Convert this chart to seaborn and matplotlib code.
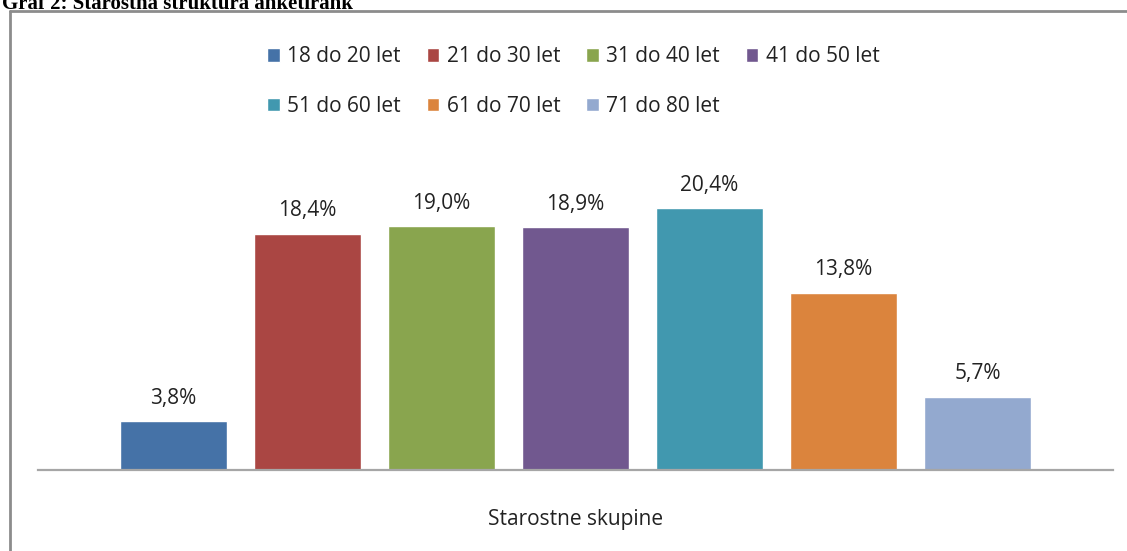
import matplotlib
matplotlib.use("Agg")
import matplotlib.pyplot as plt
from matplotlib.lines import Line2D
import seaborn as sns
import pandas as pd

# Data
groups = ["18 do 20 let", "21 do 30 let", "31 do 40 let", "41 do 50 let",
          "51 do 60 let", "61 do 70 let", "71 do 80 let"]
shares = [3.8, 18.4, 19.0, 18.9, 20.4, 13.8, 5.7]
colors = ["#4572A7", "#AA4643", "#89A54E", "#71588F", "#4198AF", "#DB843D", "#93A9CF"]

df = pd.DataFrame({"skupina": groups, "delez": shares})

sns.set_theme(style="white")
plt.rcParams["font.family"] = ["Open Sans", "DejaVu Sans"]

W, H = 1127, 551
fig = plt.figure(figsize=(W / 100, H / 100), dpi=100)
ax = fig.add_axes([38 / W, 1 - 470 / H, 1075 / W, 321 / H])

sns.barplot(data=df, x="skupina", y="delez", hue="skupina", palette=colors,
            width=0.8, saturation=1, legend=True, ax=ax)

for cont in ax.containers:
    ax.bar_label(cont, labels=[f"{v:.1f}%".replace(".", ",") for v in cont.datavalues],
                 padding=9, fontsize=15, color="#222222")

ax.set_xlim(-1.01, 7.01)
ax.set_ylim(0, 25)
ax.set_xticks([])
ax.set_yticks([])
ax.set_ylabel("")
ax.set_xlabel("Starostne skupine", fontsize=15, color="#222222", labelpad=28)
for s in ["top", "left", "right"]:
    ax.spines[s].set_visible(False)
ax.spines["bottom"].set_color("#a6a6a6")
ax.spines["bottom"].set_linewidth(1.6)

# legend in two rows, row-major order
handles, labels = ax.get_legend_handles_labels()
ax.get_legend().remove()
order = [0, 4, 1, 5, 2, 6, 3]
fig.legend([handles[i] for i in order], [labels[i] for i in order],
           ncol=4, loc="upper left", bbox_to_anchor=(257 / W, 1 - 36 / H),
           frameon=False, fontsize=15, handlelength=0.6, handleheight=0.6,
           handletextpad=0.35, columnspacing=1.25, labelspacing=1.35, borderpad=0,
           labelcolor="#222222")

# frame and cut-off title
fig.add_artist(Line2D([10 / W, 10 / W], [0, 1 - 11 / H], transform=fig.transFigure,
                      color="#8c8c8c", lw=2))
fig.add_artist(Line2D([10 / W, 1], [1 - 11 / H, 1 - 11 / H], transform=fig.transFigure,
                      color="#8c8c8c", lw=2))
fig.text(2 / W, 1 - 9 / H, "Graf 2: Starostna struktura anketirank", family="Liberation Serif",
         fontweight="bold", fontsize=15, va="baseline", ha="left", color="black")

fig.savefig("out.png", dpi=100, facecolor="white")
